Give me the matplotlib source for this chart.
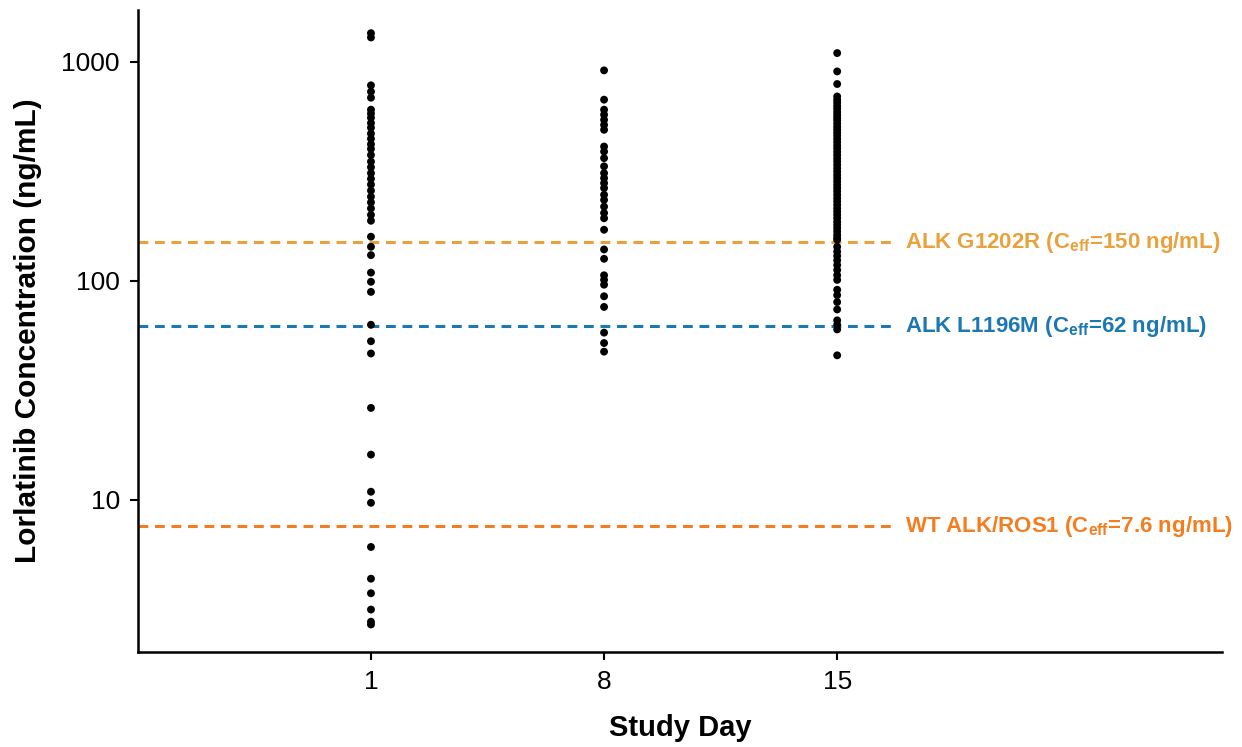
import matplotlib
matplotlib.use('Agg')
import matplotlib.pyplot as plt

plt.rcParams['font.family'] = ['Liberation Sans', 'DejaVu Sans']
plt.rcParams['mathtext.fontset'] = 'custom'
plt.rcParams['mathtext.rm'] = 'Liberation Sans:bold'
plt.rcParams['mathtext.bf'] = 'Liberation Sans:bold'
plt.rcParams['mathtext.it'] = 'Liberation Sans:bold'

# concentrations (ng/mL)
day1 = [1350, 1290, 780, 730, 685, 604, 580, 555, 525, 500, 470, 445, 420, 400,
        375, 350, 330, 310, 292, 275, 258, 242, 228, 214, 200, 188, 159, 143, 131,
        109, 99, 89, 63, 53, 46.6, 26.3, 16.1, 10.9, 9.7, 6.1, 4.37, 3.75, 3.16,
        2.78, 2.70]
day8 = [913, 671, 604, 573, 543, 515, 489, 410, 389, 363, 333, 310, 294, 279,
        265, 247, 234, 218, 204, 193, 171, 139, 126, 106, 101, 96, 85, 76, 58,
        52, 47.5]
day15 = [1095, 903, 791, 694, 670, 650, 628, 610, 590, 572, 555, 540, 522, 505,
         490, 475, 460, 445, 430, 415, 402, 388, 375, 362, 350, 338, 326, 315,
         304, 294, 284, 274, 265, 256, 247, 238, 230, 222, 214, 207, 200, 193,
         186, 180, 174, 168, 162, 157, 154, 143, 136, 130, 124, 118, 112, 106,
         101, 91, 86, 80, 74, 66, 63, 60, 45.7]

days = [1, 8, 15]
thresholds = [150, 62, 7.6]
thr_names = ['ALK G1202R', 'ALK L1196M', 'WT ALK/ROS1']
thr_vals = ['150', '62', '7.6']
thr_colors = ['#E9A23B', '#1B78B2', '#F47D20']

fig = plt.figure(figsize=(12.42, 7.47), dpi=100)
ax = fig.add_axes([0.111, 0.127, 0.873, 0.860])

for d, vals in zip(days, [day1, day8, day15]):
    ax.scatter([d] * len(vals), vals, s=32, color='black', edgecolors='none', zorder=3)

for t, name, v, c in zip(thresholds, thr_names, thr_vals, thr_colors):
    ax.plot([-6, 16.7], [t, t], color=c, linestyle=(0, (3.2, 2.2)), lw=2.2, zorder=2)
    ax.text(17.05, t, name + ' (C$_{eff}$=' + v + ' ng/mL)', color=c,
            fontsize=16, fontweight='bold', va='center', ha='left')

ax.set_yscale('log')
ax.set_ylim(2.02, 1727)
ax.set_xlim(-6, 26.56)
ax.set_yticks([10, 100, 1000])
ax.set_yticklabels(['10', '100', '1000'])
ax.minorticks_off()
ax.set_xticks(days)
ax.set_xticklabels(['1', '8', '15'])
ax.tick_params(axis='both', labelsize=19, length=6, width=1.5, pad=7)

for s in ['top', 'right']:
    ax.spines[s].set_visible(False)
for s in ['left', 'bottom']:
    ax.spines[s].set_linewidth(1.8)

ax.set_xlabel('Study Day', fontsize=21, fontweight='bold', labelpad=14)
ax.set_ylabel('Lorlatinib Concentration (ng/mL)', fontsize=21.5, fontweight='bold', labelpad=14)

fig.savefig('out.png', dpi=100)
